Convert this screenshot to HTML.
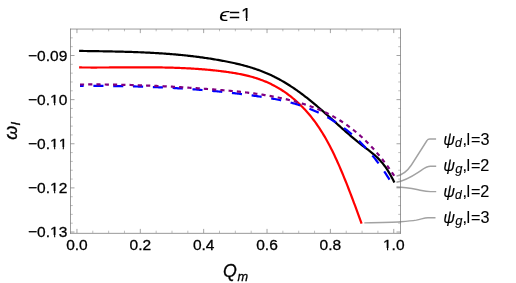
<!DOCTYPE html>
<html><head><meta charset="utf-8"><title>plot</title>
<style>
html,body{margin:0;padding:0;background:#fff;overflow:hidden;}
svg{display:block;will-change:transform;font-family:"Liberation Sans",sans-serif;}
.t{font-size:15.5px;fill:#000;}
text{stroke:#000;stroke-width:0.3px;font-kerning:none;}
text.lab{stroke-width:0.12px;}
.i{font-style:italic;}
</style></head><body>
<svg width="516" height="283" viewBox="0 0 516 283">
<rect width="516" height="283" fill="#fff"/>
<g fill="none" stroke-width="2.2" stroke-linejoin="round">
<path d="M79.10,50.91 L80.32,50.93 L81.53,50.95 L82.75,50.97 L83.97,50.99 L85.19,51.00 L86.40,51.02 L87.62,51.04 L88.84,51.06 L90.06,51.08 L91.27,51.10 L92.49,51.11 L93.71,51.13 L94.93,51.15 L96.14,51.17 L97.36,51.19 L98.58,51.21 L99.80,51.23 L101.01,51.25 L102.23,51.27 L103.45,51.29 L104.66,51.31 L105.88,51.33 L107.10,51.36 L108.32,51.38 L109.53,51.40 L110.75,51.43 L111.97,51.45 L113.19,51.48 L114.40,51.50 L115.62,51.53 L116.84,51.56 L118.06,51.59 L119.27,51.62 L120.49,51.65 L121.71,51.68 L122.93,51.71 L124.14,51.74 L125.36,51.78 L126.58,51.81 L127.79,51.85 L129.01,51.88 L130.23,51.92 L131.45,51.96 L132.66,52.00 L133.88,52.04 L135.10,52.09 L136.32,52.13 L137.53,52.18 L138.75,52.23 L139.97,52.27 L141.19,52.32 L142.40,52.38 L143.62,52.43 L144.84,52.48 L146.06,52.54 L147.27,52.60 L148.49,52.66 L149.71,52.72 L150.93,52.78 L152.14,52.85 L153.36,52.92 L154.58,52.98 L155.79,53.05 L157.01,53.13 L158.23,53.20 L159.45,53.28 L160.66,53.36 L161.88,53.44 L163.10,53.52 L164.32,53.60 L165.53,53.69 L166.75,53.78 L167.97,53.87 L169.19,53.96 L170.40,54.06 L171.62,54.16 L172.84,54.26 L174.06,54.36 L175.27,54.46 L176.49,54.57 L177.71,54.68 L178.92,54.79 L180.14,54.91 L181.36,55.03 L182.58,55.15 L183.79,55.27 L185.01,55.39 L186.23,55.52 L187.45,55.65 L188.66,55.79 L189.88,55.92 L191.10,56.06 L192.32,56.21 L193.53,56.35 L194.75,56.50 L195.97,56.65 L197.19,56.80 L198.40,56.96 L199.62,57.12 L200.84,57.29 L202.05,57.45 L203.27,57.62 L204.49,57.80 L205.71,57.97 L206.92,58.15 L208.14,58.33 L209.36,58.52 L210.58,58.71 L211.79,58.90 L213.01,59.10 L214.23,59.30 L215.45,59.50 L216.66,59.71 L217.88,59.92 L219.10,60.14 L220.32,60.36 L221.53,60.58 L222.75,60.80 L223.97,61.03 L225.18,61.27 L226.40,61.50 L227.62,61.74 L228.84,61.99 L230.05,62.24 L231.27,62.49 L232.49,62.75 L233.71,63.02 L234.92,63.29 L236.14,63.56 L237.36,63.85 L238.58,64.14 L239.79,64.43 L241.01,64.73 L242.23,65.04 L243.45,65.36 L244.66,65.69 L245.88,66.02 L247.10,66.36 L248.32,66.71 L249.53,67.07 L250.75,67.44 L251.97,67.82 L253.18,68.20 L254.40,68.60 L255.62,69.01 L256.84,69.43 L258.05,69.86 L259.27,70.30 L260.49,70.75 L261.71,71.21 L262.92,71.68 L264.14,72.17 L265.36,72.67 L266.58,73.18 L267.79,73.71 L269.01,74.25 L270.23,74.80 L271.45,75.36 L272.66,75.94 L273.88,76.54 L275.10,77.15 L276.31,77.77 L277.53,78.41 L278.75,79.06 L279.97,79.72 L281.18,80.40 L282.40,81.10 L283.62,81.81 L284.84,82.53 L286.05,83.26 L287.27,84.01 L288.49,84.77 L289.71,85.55 L290.92,86.34 L292.14,87.14 L293.36,87.95 L294.58,88.78 L295.79,89.62 L297.01,90.47 L298.23,91.33 L299.44,92.21 L300.66,93.10 L301.88,94.00 L303.10,94.91 L304.31,95.84 L305.53,96.77 L306.75,97.72 L307.97,98.68 L309.18,99.65 L310.40,100.63 L311.62,101.62 L312.84,102.62 L314.05,103.64 L315.27,104.66 L316.49,105.69 L317.71,106.72 L318.92,107.77 L320.14,108.82 L321.36,109.88 L322.57,110.94 L323.79,112.01 L325.01,113.08 L326.23,114.16 L327.44,115.24 L328.66,116.33 L329.88,117.42 L331.10,118.51 L332.31,119.60 L333.53,120.69 L334.75,121.79 L335.97,122.88 L337.18,123.98 L338.40,125.07 L339.62,126.16 L340.84,127.25 L342.05,128.34 L343.27,129.42 L344.49,130.50 L345.71,131.57 L346.92,132.64 L348.14,133.71 L349.36,134.76 L350.57,135.81 L351.79,136.86 L353.01,137.89 L354.23,138.91 L355.44,139.93 L356.66,140.93 L357.88,141.93 L359.10,142.91 L360.31,143.88 L361.53,144.84 L362.75,145.79 L363.97,146.72 L365.18,147.64 L366.40,148.56 L367.62,149.48 L368.84,150.40 L370.05,151.35 L371.27,152.31 L372.49,153.30 L373.70,154.32 L374.92,155.38 L376.14,156.48 L377.36,157.64 L378.57,158.85 L379.79,160.13 L381.01,161.47 L382.23,162.89 L383.44,164.39 L384.66,165.98 L385.88,167.67 L387.10,169.45 L388.31,171.34 L389.53,173.34 L390.75,175.46 L391.97,177.70 L393.18,180.07 L394.40,182.58" stroke="#000"/>
<path d="M79.10,67.45 L80.19,67.46 L81.28,67.47 L82.37,67.48 L83.46,67.49 L84.55,67.50 L85.64,67.51 L86.74,67.51 L87.83,67.52 L88.92,67.52 L90.01,67.52 L91.10,67.53 L92.19,67.53 L93.28,67.53 L94.37,67.53 L95.46,67.53 L96.55,67.53 L97.64,67.52 L98.73,67.52 L99.82,67.52 L100.91,67.52 L102.01,67.51 L103.10,67.51 L104.19,67.50 L105.28,67.50 L106.37,67.49 L107.46,67.49 L108.55,67.48 L109.64,67.47 L110.73,67.47 L111.82,67.46 L112.91,67.45 L114.00,67.45 L115.09,67.44 L116.18,67.43 L117.28,67.42 L118.37,67.42 L119.46,67.41 L120.55,67.40 L121.64,67.39 L122.73,67.39 L123.82,67.38 L124.91,67.37 L126.00,67.37 L127.09,67.36 L128.18,67.35 L129.27,67.35 L130.36,67.34 L131.46,67.34 L132.55,67.33 L133.64,67.33 L134.73,67.32 L135.82,67.32 L136.91,67.32 L138.00,67.31 L139.09,67.31 L140.18,67.31 L141.27,67.31 L142.36,67.31 L143.45,67.31 L144.54,67.31 L145.63,67.32 L146.73,67.32 L147.82,67.32 L148.91,67.33 L150.00,67.33 L151.09,67.34 L152.18,67.35 L153.27,67.36 L154.36,67.37 L155.45,67.38 L156.54,67.39 L157.63,67.40 L158.72,67.42 L159.81,67.43 L160.91,67.45 L162.00,67.47 L163.09,67.49 L164.18,67.51 L165.27,67.53 L166.36,67.55 L167.45,67.58 L168.54,67.60 L169.63,67.63 L170.72,67.66 L171.81,67.69 L172.90,67.72 L173.99,67.75 L175.08,67.79 L176.18,67.83 L177.27,67.87 L178.36,67.91 L179.45,67.95 L180.54,67.99 L181.63,68.04 L182.72,68.08 L183.81,68.13 L184.90,68.19 L185.99,68.24 L187.08,68.29 L188.17,68.35 L189.26,68.41 L190.35,68.47 L191.45,68.54 L192.54,68.60 L193.63,68.67 L194.72,68.74 L195.81,68.81 L196.90,68.88 L197.99,68.96 L199.08,69.04 L200.17,69.12 L201.26,69.21 L202.35,69.29 L203.44,69.38 L204.53,69.47 L205.63,69.56 L206.72,69.66 L207.81,69.76 L208.90,69.86 L209.99,69.96 L211.08,70.07 L212.17,70.18 L213.26,70.29 L214.35,70.41 L215.44,70.53 L216.53,70.65 L217.62,70.77 L218.71,70.89 L219.80,71.02 L220.90,71.16 L221.99,71.29 L223.08,71.43 L224.17,71.57 L225.26,71.71 L226.35,71.86 L227.44,72.01 L228.53,72.17 L229.62,72.32 L230.71,72.49 L231.80,72.65 L232.89,72.82 L233.98,73.00 L235.07,73.18 L236.17,73.37 L237.26,73.56 L238.35,73.76 L239.44,73.97 L240.53,74.18 L241.62,74.40 L242.71,74.62 L243.80,74.86 L244.89,75.10 L245.98,75.35 L247.07,75.61 L248.16,75.88 L249.25,76.16 L250.35,76.45 L251.44,76.74 L252.53,77.05 L253.62,77.37 L254.71,77.70 L255.80,78.03 L256.89,78.38 L257.98,78.75 L259.07,79.12 L260.16,79.51 L261.25,79.91 L262.34,80.32 L263.43,80.74 L264.52,81.18 L265.62,81.63 L266.71,82.10 L267.80,82.58 L268.89,83.07 L269.98,83.58 L271.07,84.10 L272.16,84.64 L273.25,85.20 L274.34,85.77 L275.43,86.36 L276.52,86.97 L277.61,87.59 L278.70,88.23 L279.79,88.88 L280.89,89.56 L281.98,90.25 L283.07,90.96 L284.16,91.69 L285.25,92.44 L286.34,93.21 L287.43,94.00 L288.52,94.80 L289.61,95.63 L290.70,96.48 L291.79,97.35 L292.88,98.24 L293.97,99.15 L295.07,100.09 L296.16,101.04 L297.25,102.02 L298.34,103.03 L299.43,104.05 L300.52,105.10 L301.61,106.18 L302.70,107.28 L303.79,108.41 L304.88,109.57 L305.97,110.76 L307.06,111.98 L308.15,113.23 L309.24,114.52 L310.34,115.83 L311.43,117.18 L312.52,118.57 L313.61,119.99 L314.70,121.45 L315.79,122.95 L316.88,124.49 L317.97,126.06 L319.06,127.68 L320.15,129.33 L321.24,131.04 L322.33,132.78 L323.42,134.57 L324.52,136.40 L325.61,138.28 L326.70,140.21 L327.79,142.18 L328.88,144.20 L329.97,146.28 L331.06,148.40 L332.15,150.58 L333.24,152.80 L334.33,155.08 L335.42,157.41 L336.51,159.78 L337.60,162.19 L338.69,164.65 L339.79,167.16 L340.88,169.70 L341.97,172.28 L343.06,174.90 L344.15,177.55 L345.24,180.24 L346.33,182.96 L347.42,185.71 L348.51,188.50 L349.60,191.30 L350.69,194.14 L351.78,197.00 L352.87,199.88 L353.96,202.79 L355.06,205.71 L356.15,208.65 L357.24,211.61 L358.33,214.59 L359.42,217.58 L360.51,220.58 L361.60,223.59" stroke="#ff0000"/>
<path d="M80.00,85.91 L81.19,85.91 L82.39,85.90 L83.58,85.90 L84.78,85.90 L85.97,85.89 L87.17,85.89 L88.36,85.89 L89.56,85.89 L90.75,85.89 L91.95,85.89 L93.14,85.89 L94.34,85.89 L95.53,85.90 L96.73,85.90 L97.92,85.90 L99.12,85.91 L100.31,85.91 L101.51,85.92 L102.70,85.93 L103.90,85.94 L105.09,85.95 L106.29,85.96 L107.48,85.97 L108.68,85.98 L109.87,85.99 L111.07,86.00 L112.26,86.02 L113.46,86.03 L114.65,86.05 L115.85,86.06 L117.04,86.08 L118.24,86.10 L119.43,86.12 L120.63,86.14 L121.82,86.16 L123.02,86.18 L124.21,86.20 L125.41,86.23 L126.60,86.25 L127.80,86.28 L128.99,86.30 L130.19,86.33 L131.38,86.36 L132.58,86.39 L133.77,86.42 L134.97,86.45 L136.16,86.48 L137.36,86.52 L138.55,86.55 L139.75,86.59 L140.94,86.62 L142.14,86.66 L143.33,86.70 L144.53,86.74 L145.72,86.78 L146.92,86.82 L148.11,86.86 L149.31,86.90 L150.50,86.95 L151.70,87.00 L152.89,87.04 L154.09,87.09 L155.28,87.14 L156.48,87.19 L157.67,87.24 L158.87,87.29 L160.06,87.35 L161.26,87.40 L162.45,87.46 L163.65,87.51 L164.84,87.57 L166.04,87.63 L167.23,87.69 L168.43,87.75 L169.62,87.82 L170.82,87.88 L172.01,87.95 L173.21,88.01 L174.40,88.08 L175.60,88.15 L176.79,88.22 L177.99,88.29 L179.18,88.36 L180.38,88.44 L181.57,88.51 L182.77,88.59 L183.96,88.67 L185.16,88.75 L186.35,88.83 L187.55,88.91 L188.74,88.99 L189.94,89.07 L191.13,89.16 L192.33,89.25 L193.52,89.34 L194.72,89.43 L195.91,89.52 L197.11,89.61 L198.30,89.70 L199.50,89.80 L200.69,89.89 L201.89,89.99 L203.08,90.09 L204.28,90.19 L205.47,90.29 L206.67,90.40 L207.86,90.50 L209.06,90.61 L210.25,90.72 L211.45,90.83 L212.64,90.94 L213.84,91.05 L215.03,91.16 L216.23,91.28 L217.42,91.39 L218.62,91.51 L219.81,91.63 L221.01,91.75 L222.20,91.88 L223.40,92.00 L224.59,92.13 L225.79,92.25 L226.98,92.38 L228.18,92.51 L229.37,92.64 L230.57,92.78 L231.76,92.91 L232.96,93.05 L234.15,93.19 L235.35,93.33 L236.54,93.47 L237.74,93.61 L238.93,93.76 L240.13,93.90 L241.32,94.05 L242.52,94.20 L243.71,94.35 L244.91,94.50 L246.10,94.66 L247.30,94.81 L248.49,94.97 L249.69,95.13 L250.88,95.29 L252.08,95.46 L253.27,95.62 L254.47,95.79 L255.66,95.96 L256.86,96.13 L258.05,96.30 L259.25,96.47 L260.44,96.65 L261.64,96.83 L262.83,97.01 L264.03,97.19 L265.22,97.38 L266.42,97.58 L267.61,97.77 L268.81,97.97 L270.00,98.17 L271.20,98.38 L272.39,98.60 L273.59,98.81 L274.78,99.04 L275.98,99.26 L277.17,99.50 L278.37,99.74 L279.56,99.98 L280.76,100.23 L281.95,100.49 L283.15,100.76 L284.34,101.03 L285.54,101.30 L286.73,101.59 L287.93,101.88 L289.12,102.18 L290.32,102.49 L291.51,102.81 L292.71,103.13 L293.90,103.47 L295.10,103.81 L296.29,104.16 L297.49,104.52 L298.68,104.89 L299.88,105.27 L301.07,105.66 L302.27,106.06 L303.46,106.47 L304.66,106.89 L305.85,107.32 L307.05,107.77 L308.24,108.22 L309.44,108.69 L310.63,109.16 L311.83,109.65 L313.02,110.15 L314.22,110.67 L315.41,111.19 L316.61,111.73 L317.80,112.28 L319.00,112.85 L320.19,113.42 L321.39,114.02 L322.58,114.62 L323.78,115.24 L324.97,115.88 L326.17,116.52 L327.36,117.19 L328.56,117.87 L329.75,118.56 L330.95,119.27 L332.14,119.99 L333.34,120.73 L334.53,121.49 L335.73,122.26 L336.92,123.05 L338.12,123.86 L339.31,124.68 L340.51,125.52 L341.70,126.38 L342.90,127.25 L344.09,128.15 L345.29,129.06 L346.48,129.99 L347.68,130.93 L348.87,131.90 L350.07,132.89 L351.26,133.89 L352.46,134.92 L353.65,135.96 L354.85,137.03 L356.04,138.12 L357.24,139.23 L358.43,140.36 L359.63,141.52 L360.82,142.70 L362.02,143.91 L363.21,145.14 L364.41,146.40 L365.60,147.68 L366.80,148.99 L367.99,150.32 L369.19,151.69 L370.38,153.08 L371.58,154.50 L372.77,155.95 L373.97,157.43 L375.16,158.94 L376.36,160.48 L377.55,162.05 L378.75,163.65 L379.94,165.29 L381.14,166.95 L382.33,168.66 L383.53,170.39 L384.72,172.16 L385.92,173.97 L387.11,175.81 L388.31,177.68 L389.50,179.60" stroke="#0000ff" stroke-dasharray="10.1 9.73" stroke-dashoffset="6.45"/>
<path d="M80.00,84.52 L81.22,84.51 L82.43,84.50 L83.65,84.49 L84.86,84.48 L86.08,84.47 L87.29,84.47 L88.51,84.46 L89.72,84.46 L90.94,84.46 L92.15,84.46 L93.37,84.46 L94.59,84.46 L95.80,84.46 L97.02,84.46 L98.23,84.47 L99.45,84.47 L100.66,84.48 L101.88,84.49 L103.09,84.50 L104.31,84.51 L105.52,84.52 L106.74,84.53 L107.96,84.54 L109.17,84.56 L110.39,84.57 L111.60,84.59 L112.82,84.61 L114.03,84.63 L115.25,84.65 L116.46,84.67 L117.68,84.69 L118.89,84.71 L120.11,84.74 L121.33,84.76 L122.54,84.79 L123.76,84.82 L124.97,84.85 L126.19,84.88 L127.40,84.91 L128.62,84.94 L129.83,84.97 L131.05,85.00 L132.26,85.04 L133.48,85.07 L134.69,85.11 L135.91,85.15 L137.13,85.19 L138.34,85.23 L139.56,85.27 L140.77,85.31 L141.99,85.35 L143.20,85.39 L144.42,85.44 L145.63,85.48 L146.85,85.53 L148.06,85.58 L149.28,85.63 L150.50,85.68 L151.71,85.73 L152.93,85.78 L154.14,85.83 L155.36,85.88 L156.57,85.94 L157.79,85.99 L159.00,86.05 L160.22,86.11 L161.43,86.16 L162.65,86.22 L163.87,86.28 L165.08,86.34 L166.30,86.40 L167.51,86.47 L168.73,86.53 L169.94,86.59 L171.16,86.66 L172.37,86.72 L173.59,86.79 L174.80,86.86 L176.02,86.93 L177.24,87.00 L178.45,87.07 L179.67,87.14 L180.88,87.21 L182.10,87.28 L183.31,87.36 L184.53,87.43 L185.74,87.51 L186.96,87.58 L188.17,87.66 L189.39,87.74 L190.61,87.82 L191.82,87.90 L193.04,87.98 L194.25,88.06 L195.47,88.14 L196.68,88.22 L197.90,88.30 L199.11,88.39 L200.33,88.47 L201.54,88.56 L202.76,88.65 L203.98,88.73 L205.19,88.82 L206.41,88.91 L207.62,89.00 L208.84,89.09 L210.05,89.18 L211.27,89.27 L212.48,89.37 L213.70,89.46 L214.91,89.55 L216.13,89.65 L217.35,89.74 L218.56,89.84 L219.78,89.94 L220.99,90.04 L222.21,90.14 L223.42,90.24 L224.64,90.34 L225.85,90.45 L227.07,90.55 L228.28,90.66 L229.50,90.77 L230.72,90.88 L231.93,90.99 L233.15,91.11 L234.36,91.22 L235.58,91.34 L236.79,91.46 L238.01,91.59 L239.22,91.71 L240.44,91.84 L241.65,91.97 L242.87,92.11 L244.08,92.24 L245.30,92.38 L246.52,92.52 L247.73,92.67 L248.95,92.82 L250.16,92.97 L251.38,93.12 L252.59,93.28 L253.81,93.44 L255.02,93.61 L256.24,93.77 L257.45,93.95 L258.67,94.12 L259.89,94.30 L261.10,94.48 L262.32,94.67 L263.53,94.86 L264.75,95.06 L265.96,95.26 L267.18,95.46 L268.39,95.67 L269.61,95.88 L270.82,96.10 L272.04,96.32 L273.26,96.55 L274.47,96.78 L275.69,97.02 L276.90,97.26 L278.12,97.51 L279.33,97.76 L280.55,98.02 L281.76,98.28 L282.98,98.55 L284.19,98.82 L285.41,99.10 L286.63,99.38 L287.84,99.67 L289.06,99.97 L290.27,100.27 L291.49,100.58 L292.70,100.89 L293.92,101.21 L295.13,101.54 L296.35,101.87 L297.56,102.21 L298.78,102.56 L300.00,102.91 L301.21,103.27 L302.43,103.64 L303.64,104.02 L304.86,104.41 L306.07,104.80 L307.29,105.20 L308.50,105.61 L309.72,106.04 L310.93,106.47 L312.15,106.91 L313.37,107.36 L314.58,107.82 L315.80,108.30 L317.01,108.78 L318.23,109.28 L319.44,109.78 L320.66,110.30 L321.87,110.84 L323.09,111.38 L324.30,111.94 L325.52,112.51 L326.74,113.10 L327.95,113.70 L329.17,114.31 L330.38,114.94 L331.60,115.58 L332.81,116.24 L334.03,116.91 L335.24,117.60 L336.46,118.30 L337.67,119.03 L338.89,119.76 L340.11,120.52 L341.32,121.29 L342.54,122.08 L343.75,122.88 L344.97,123.71 L346.18,124.55 L347.40,125.41 L348.61,126.29 L349.83,127.19 L351.04,128.11 L352.26,129.05 L353.47,130.01 L354.69,130.99 L355.91,131.99 L357.12,133.01 L358.34,134.05 L359.55,135.11 L360.77,136.20 L361.98,137.31 L363.20,138.44 L364.41,139.59 L365.63,140.77 L366.84,141.96 L368.06,143.19 L369.28,144.43 L370.49,145.70 L371.71,147.00 L372.92,148.32 L374.14,149.66 L375.35,151.03 L376.57,152.43 L377.78,153.85 L379.00,155.30 L380.21,156.77 L381.43,158.27 L382.65,159.80 L383.86,161.36 L385.08,162.94 L386.29,164.55 L387.51,166.19 L388.72,167.86 L389.94,169.56 L391.15,171.28 L392.37,173.04 L393.58,174.82 L394.80,176.64" stroke="#800080" stroke-dasharray="4.2 4.07" stroke-dashoffset="0.1"/>
</g>
<g fill="none" stroke="#a2a2a2" stroke-width="1.42" stroke-linejoin="round">
<path d="M396.5,176.1 C402,175 407,171.6 411.4,165 L427.0,140.5 Q427.9,139 429.7,139 L436.1,139"/>
<path d="M396.5,182.3 C404,181 412,176.5 418.2,172.4 C423,169.2 426,166.3 430.5,166.3 L436.2,166.3"/>
<path d="M396.5,187 C404,187 412,188.5 418.2,189.8 C423,190.8 426,191.6 430.5,191.6 L436.2,191.6"/>
<path d="M364.3,222.9 C380,222.6 395,222.2 400.6,221.8 C408,221.2 412,220.8 416.3,220.1 C422,219 424,217.8 428,217.8 L435.5,217.8"/>
</g>
<g fill="none" stroke="#727272" stroke-width="0.72">
<path d="M70.5,28.7 V233.7"/>
<path d="M400.5,28.7 V233.7"/>
<path d="M70.1,29.05 H400.9"/>
<path d="M70.1,233.35 H400.9"/>
</g>
<g stroke="#727272" fill="none">
<path stroke-width="0.66" d="M76.95,233.0 v-4.1 M76.95,29.0 v4.1"/>
<path stroke-width="0.45" d="M92.79,233.0 v-2.3 M92.79,29.0 v2.3"/>
<path stroke-width="0.45" d="M108.63,233.0 v-2.3 M108.63,29.0 v2.3"/>
<path stroke-width="0.45" d="M124.47,233.0 v-2.3 M124.47,29.0 v2.3"/>
<path stroke-width="0.66" d="M140.31,233.0 v-4.1 M140.31,29.0 v4.1"/>
<path stroke-width="0.45" d="M156.15,233.0 v-2.3 M156.15,29.0 v2.3"/>
<path stroke-width="0.45" d="M171.99,233.0 v-2.3 M171.99,29.0 v2.3"/>
<path stroke-width="0.45" d="M187.83,233.0 v-2.3 M187.83,29.0 v2.3"/>
<path stroke-width="0.66" d="M203.67,233.0 v-4.1 M203.67,29.0 v4.1"/>
<path stroke-width="0.45" d="M219.51,233.0 v-2.3 M219.51,29.0 v2.3"/>
<path stroke-width="0.45" d="M235.35,233.0 v-2.3 M235.35,29.0 v2.3"/>
<path stroke-width="0.45" d="M251.19,233.0 v-2.3 M251.19,29.0 v2.3"/>
<path stroke-width="0.66" d="M267.03,233.0 v-4.1 M267.03,29.0 v4.1"/>
<path stroke-width="0.45" d="M282.87,233.0 v-2.3 M282.87,29.0 v2.3"/>
<path stroke-width="0.45" d="M298.71,233.0 v-2.3 M298.71,29.0 v2.3"/>
<path stroke-width="0.45" d="M314.55,233.0 v-2.3 M314.55,29.0 v2.3"/>
<path stroke-width="0.66" d="M330.39,233.0 v-4.1 M330.39,29.0 v4.1"/>
<path stroke-width="0.45" d="M346.23,233.0 v-2.3 M346.23,29.0 v2.3"/>
<path stroke-width="0.45" d="M362.07,233.0 v-2.3 M362.07,29.0 v2.3"/>
<path stroke-width="0.45" d="M377.91,233.0 v-2.3 M377.91,29.0 v2.3"/>
<path stroke-width="0.66" d="M393.75,233.0 v-4.1 M393.75,29.0 v4.1"/>
<path stroke-width="0.66" d="M70.5,232.02 h4.0 M400.5,232.02 h-4.0"/>
<path stroke-width="0.45" d="M70.5,223.19 h2.3 M400.5,223.19 h-2.3"/>
<path stroke-width="0.45" d="M70.5,214.37 h2.3 M400.5,214.37 h-2.3"/>
<path stroke-width="0.45" d="M70.5,205.54 h2.3 M400.5,205.54 h-2.3"/>
<path stroke-width="0.45" d="M70.5,196.72 h2.3 M400.5,196.72 h-2.3"/>
<path stroke-width="0.66" d="M70.5,187.89 h4.0 M400.5,187.89 h-4.0"/>
<path stroke-width="0.45" d="M70.5,179.06 h2.3 M400.5,179.06 h-2.3"/>
<path stroke-width="0.45" d="M70.5,170.24 h2.3 M400.5,170.24 h-2.3"/>
<path stroke-width="0.45" d="M70.5,161.41 h2.3 M400.5,161.41 h-2.3"/>
<path stroke-width="0.45" d="M70.5,152.59 h2.3 M400.5,152.59 h-2.3"/>
<path stroke-width="0.66" d="M70.5,143.76 h4.0 M400.5,143.76 h-4.0"/>
<path stroke-width="0.45" d="M70.5,134.93 h2.3 M400.5,134.93 h-2.3"/>
<path stroke-width="0.45" d="M70.5,126.11 h2.3 M400.5,126.11 h-2.3"/>
<path stroke-width="0.45" d="M70.5,117.28 h2.3 M400.5,117.28 h-2.3"/>
<path stroke-width="0.45" d="M70.5,108.46 h2.3 M400.5,108.46 h-2.3"/>
<path stroke-width="0.66" d="M70.5,99.63 h4.0 M400.5,99.63 h-4.0"/>
<path stroke-width="0.45" d="M70.5,90.80 h2.3 M400.5,90.80 h-2.3"/>
<path stroke-width="0.45" d="M70.5,81.98 h2.3 M400.5,81.98 h-2.3"/>
<path stroke-width="0.45" d="M70.5,73.15 h2.3 M400.5,73.15 h-2.3"/>
<path stroke-width="0.45" d="M70.5,64.33 h2.3 M400.5,64.33 h-2.3"/>
<path stroke-width="0.66" d="M70.5,55.50 h4.0 M400.5,55.50 h-4.0"/>
<path stroke-width="0.45" d="M70.5,46.67 h2.3 M400.5,46.67 h-2.3"/>
<path stroke-width="0.45" d="M70.5,37.85 h2.3 M400.5,37.85 h-2.3"/>
</g>
<g class="t"><text x="76.95" y="250.3" text-anchor="middle">0.0</text><text x="140.31" y="250.3" text-anchor="middle">0.2</text><text x="203.67" y="250.3" text-anchor="middle">0.4</text><text x="267.03" y="250.3" text-anchor="middle">0.6</text><text x="330.39" y="250.3" text-anchor="middle">0.8</text><text x="393.75" y="250.3" text-anchor="middle">1.0</text><text x="67.3" y="60.95" text-anchor="end">−0.09</text><text x="67.3" y="105.08" text-anchor="end">−0.10</text><text x="67.3" y="149.21" text-anchor="end">−0.11</text><text x="67.3" y="193.34" text-anchor="end">−0.12</text><text x="67.3" y="237.47" text-anchor="end">−0.13</text></g>
<g fill="#000" style="stroke-width:0.12px"><text class="lab" y="144.9" font-size="16.2"><tspan class="i" x="443.2">ψ</tspan><tspan class="i" x="454.95" dy="1.9" font-size="12.2">d</tspan><tspan x="462.5" dy="-1.9">,</tspan><tspan x="466.6">l</tspan><tspan x="470.9">=</tspan><tspan x="480.4">3</tspan></text><text class="lab" y="171.0" font-size="16.2"><tspan class="i" x="443.2">ψ</tspan><tspan class="i" x="455.3" dy="2.2" font-size="13.0">g</tspan><tspan x="462.5" dy="-2.2">,</tspan><tspan x="466.6">l</tspan><tspan x="470.9">=</tspan><tspan x="480.2">2</tspan></text><text class="lab" y="197.1" font-size="16.2"><tspan class="i" x="443.2">ψ</tspan><tspan class="i" x="454.95" dy="1.9" font-size="12.2">d</tspan><tspan x="462.5" dy="-1.9">,</tspan><tspan x="466.6">l</tspan><tspan x="470.9">=</tspan><tspan x="480.2">2</tspan></text><text class="lab" y="223.2" font-size="16.2"><tspan class="i" x="443.2">ψ</tspan><tspan class="i" x="455.3" dy="2.2" font-size="13.0">g</tspan><tspan x="462.5" dy="-2.2">,</tspan><tspan x="466.6">l</tspan><tspan x="470.9">=</tspan><tspan x="480.4">3</tspan></text></g>
<text y="20.5" font-size="19" fill="#000" style="stroke-width:0.1px"><tspan class="i" x="219.3" textLength="9.9" lengthAdjust="spacingAndGlyphs">ϵ</tspan><tspan x="229.0">=</tspan><tspan x="241.0">1</tspan></text>
<text y="277.2" font-size="17.8" fill="#000"><tspan class="i" x="222.95">Q</tspan><tspan class="i" x="237.5" font-size="12.7" dy="4.15">m</tspan></text>
<text transform="translate(17.0,139.65) rotate(-90)" font-size="18" fill="#000"><tspan class="i">ω</tspan><tspan class="i" font-size="13" dy="2.85">I</tspan></text>
<g fill="#fff"><rect x="383.55" y="248.00" width="3.46" height="3.00"/><rect x="388.15" y="248.00" width="3.29" height="3.00"/><rect x="50.64" y="103.00" width="3.46" height="3.00"/><rect x="55.23" y="103.00" width="3.29" height="3.00"/><rect x="50.64" y="147.00" width="3.46" height="3.00"/><rect x="55.23" y="147.00" width="3.29" height="3.00"/><rect x="59.26" y="147.00" width="3.46" height="3.00"/><rect x="63.85" y="147.00" width="3.29" height="3.00"/><rect x="50.64" y="191.00" width="3.46" height="3.00"/><rect x="55.23" y="191.00" width="3.29" height="3.00"/><rect x="50.64" y="235.00" width="3.46" height="3.00"/><rect x="55.23" y="235.00" width="3.29" height="3.00"/><rect x="241.84" y="18.00" width="4.07" height="3.00"/><rect x="247.36" y="18.00" width="3.87" height="3.00"/></g>
</svg>
</body></html>
